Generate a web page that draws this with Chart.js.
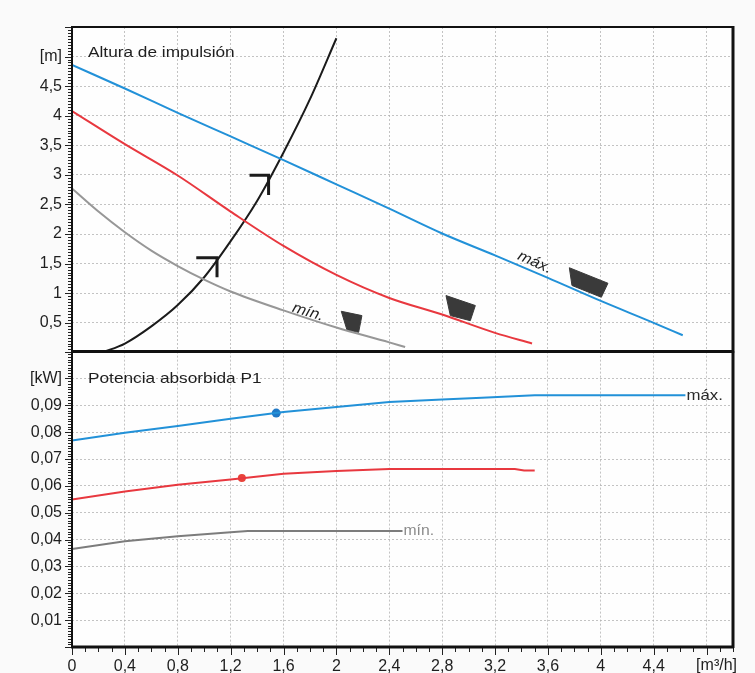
<!DOCTYPE html>
<html><head><meta charset="utf-8">
<script src="https://cdn.jsdelivr.net/npm/chart.js@4/dist/chart.umd.min.js"></script>
<style>
html,body{margin:0;padding:0;background:#fafafa;}
#wrap{position:relative;width:755px;height:673px;overflow:hidden;}
#cA{position:absolute;left:0;top:0;}
#cB{position:absolute;left:0;top:340px;}
</style></head><body>
<div id="wrap">
<canvas id="cA" width="755" height="360" style="width:755px;height:360px"></canvas>
<canvas id="cB" width="755" height="333" style="width:755px;height:333px"></canvas>
</div>
<script>
// ---------- data: head (Altura de impulsión) ----------
const flowMax = [0, 0.4, 0.8, 1.2, 1.6, 2.0, 2.4, 2.8, 3.2, 3.6, 4.0, 4.4, 4.62];
const headMax = [4.86, 4.46, 4.05, 3.65, 3.25, 2.84, 2.43, 2.01, 1.64, 1.26, 0.87, 0.50, 0.29];
const flowMid = [0, 0.4, 0.8, 1.2, 1.6, 2.0, 2.4, 2.8, 3.2, 3.48];
const headMid = [4.08, 3.52, 2.99, 2.38, 1.80, 1.31, 0.92, 0.64, 0.33, 0.15];
const flowMin = [0, 0.2, 0.4, 0.6, 0.8, 1.0, 1.2, 1.6, 2.0, 2.4, 2.52];
const headMin = [2.77, 2.38, 2.03, 1.72, 1.46, 1.23, 1.03, 0.71, 0.42, 0.17, 0.09];
const flowSys = [0.23, 0.4, 0.6, 0.8, 1.0, 1.2, 1.4, 1.6, 1.8, 2.0];
const headSys = [0.0, 0.15, 0.44, 0.80, 1.27, 1.88, 2.56, 3.38, 4.28, 5.31];
// arrow marks on the system curve
const mark1X = [0.94, 1.097, 1.097];
const mark1Y = [1.60, 1.60, 1.27];
const mark2X = [1.343, 1.487, 1.487];
const mark2Y = [2.995, 2.995, 2.66];
// speed-setting icons (polygons)
const iconMinX = [2.037, 2.193, 2.168, 2.080, 2.037];
const iconMinY = [0.695, 0.622, 0.339, 0.379, 0.695];
const iconMidX = [2.829, 3.051, 3.013, 2.862, 2.829];
const iconMidY = [0.961, 0.792, 0.537, 0.622, 0.961];
const iconMaxX = [3.762, 4.054, 4.004, 3.782, 3.762];
const iconMaxY = [1.431, 1.169, 0.932, 1.131, 1.431];

// ---------- data: power (Potencia absorbida P1) ----------
const flowPMax = [0, 0.4, 0.8, 1.2, 1.6, 2.0, 2.4, 2.8, 3.1, 3.5, 4.64];
const powMax   = [0.0769, 0.0798, 0.0823, 0.0850, 0.0875, 0.0894, 0.0912, 0.0922, 0.0928, 0.0937, 0.0937];
const flowPMid = [0, 0.4, 0.8, 1.2, 1.6, 2.0, 2.4, 3.35, 3.42, 3.5];
const powMid   = [0.0549, 0.0579, 0.0604, 0.0624, 0.0645, 0.0655, 0.0663, 0.0663, 0.0657, 0.0657];
const flowPMin = [0, 0.4, 0.8, 1.2, 1.33, 2.5];
const powMin   = [0.0365, 0.0394, 0.0412, 0.0427, 0.0432, 0.0432];
const dutyMaxX = [1.545], dutyMaxY = [0.0871];
const dutyMidX = [1.285], dutyMidY = [0.0629];

// ---------- axis ticks ----------
const xTicks = [0, 0.4, 0.8, 1.2, 1.6, 2, 2.4, 2.8, 3.2, 3.6, 4, 4.4];
const xUnit = '[m³/h]';
const headTicks = [0.5, 1, 1.5, 2, 2.5, 3, 3.5, 4, 4.5];
const headUnit = '[m]';
const powTicks = [0.01, 0.02, 0.03, 0.04, 0.05, 0.06, 0.07, 0.08, 0.09];
const powUnit = '[kW]';

const FONT = '"Liberation Sans", Arial, Helvetica, sans-serif';
Chart.defaults.font.family = FONT;
const BLUE = '#2291d8', RED = '#e8383f', GREY = '#979797', BLACK = '#1b1b1b', ICON = '#3a3a3a';
const TXT = '#1e1e1e';

function pts(xs, ys){ return xs.map((x,i)=>({x:x, y:ys[i]})); }
const near = (a,b)=>Math.abs(a-b)<1e-6;
const fmt = v => String(+v.toFixed(2)).replace('.', ',');
const GRID = 'rgba(175,175,175,0.75)';

function line(ctx,x1,y1,x2,y2){ctx.beginPath();ctx.moveTo(x1,y1);ctx.lineTo(x2,y2);ctx.stroke();}
function stretchedText(ctx, txt, x, y, sx, rot){
  ctx.save(); ctx.translate(x,y); if(rot) ctx.rotate(rot); ctx.scale(sx,1); ctx.fillText(txt,0,0); ctx.restore();
}

const bgPlugin = { id:'bg', beforeDraw(chart){ const {ctx, chartArea:a}=chart; ctx.save(); ctx.fillStyle='#fefefe'; ctx.fillRect(a.left,a.top,a.right-a.left,a.bottom-a.top); ctx.restore(); } };

const decoA = { id:'decoA', afterDraw(chart){
  const {ctx, chartArea:a, scales:{x,y}} = chart;
  ctx.save();
  ctx.strokeStyle='#222'; ctx.lineWidth=1;
  for(let i=0;i<=110;i++){ const py=Math.round(y.getPixelForValue(i*0.05))+0.5; const len=(i%10===0)?7:4; line(ctx,a.left-len,py,a.left,py); }
  ctx.strokeStyle='#111';
  ctx.lineWidth=2; line(ctx,a.left-1,a.top,a.right,a.top); line(ctx,a.left,a.top,a.left,a.bottom);
  ctx.lineWidth=3; line(ctx,a.right,a.top-1,a.right,a.bottom); line(ctx,a.left-1,a.bottom,a.right+1,a.bottom);
  // texts
  ctx.fillStyle=TXT; ctx.font='15px '+FONT; ctx.textBaseline='alphabetic'; ctx.textAlign='left';
  stretchedText(ctx,'Altura de impulsión', a.left+16, a.top+30, 1.15, 0);
  ctx.font='italic 15px '+FONT; ctx.textAlign='center'; ctx.textBaseline='middle';
  stretchedText(ctx,'máx.', x.getPixelForValue(3.50), y.getPixelForValue(1.52), 1.1, 24*Math.PI/180);
  stretchedText(ctx,'mín.', x.getPixelForValue(1.785), y.getPixelForValue(0.68), 1.1, 17*Math.PI/180);
  ctx.restore();
}};

const decoB = { id:'decoB', afterDraw(chart){
  const {ctx, chartArea:a, scales:{x,y}} = chart;
  ctx.save();
  ctx.strokeStyle='#222'; ctx.lineWidth=1;
  for(let i=0;i<=110;i++){ const py=Math.round(y.getPixelForValue(i*0.001))+0.5; const len=(i%10===0)?7:4; line(ctx,a.left-len,py,a.left,py); }
  for(let i=0;i<=50;i++){ const px=Math.round(x.getPixelForValue(i*0.1))+0.5; const len=(i%4===0)?8:5; line(ctx,px,a.bottom,px,a.bottom+len); }
  ctx.strokeStyle='#111';
  ctx.lineWidth=2; line(ctx,a.left,a.top,a.left,a.bottom);
  ctx.lineWidth=3; line(ctx,a.right,a.top,a.right,a.bottom+1); line(ctx,a.left-1,a.bottom,a.right+1,a.bottom); line(ctx,a.left-1,a.top,a.right+1,a.top);
  ctx.fillStyle=TXT; ctx.font='15px '+FONT; ctx.textBaseline='middle'; ctx.textAlign='left';
  stretchedText(ctx,'Potencia absorbida P1', a.left+16, y.getPixelForValue(0.1), 1.15, 0);
  ctx.fillStyle='#2a2a2a';
  stretchedText(ctx,'máx.', x.getPixelForValue(4.64)+1, y.getPixelForValue(0.0937), 1.12, 0);
  ctx.fillStyle='#8a8a8a';
  stretchedText(ctx,'mín.', x.getPixelForValue(2.5)+1, y.getPixelForValue(0.0432), 1.05, 0);
  // unit label on x axis
  ctx.fillStyle=TXT; ctx.font='16px '+FONT; ctx.textAlign='center'; ctx.textBaseline='middle';
  ctx.fillText(xUnit, x.getPixelForValue(4.8)+10, a.bottom+19);
  ctx.restore();
}};

const gridX = ctx => (ctx.tick && ((xTicks.some(t=>near(t,ctx.tick.value)) && ctx.tick.value>0) || near(ctx.tick.value,4.8))) ? GRID : 'rgba(0,0,0,0)';

const lineDS = (data,color,w) => ({data:data,borderColor:color,borderWidth:w,pointRadius:0,cubicInterpolationMode:'monotone',fill:false});
const segDS = (data,color,w) => ({data:data,borderColor:color,borderWidth:w,pointRadius:0,tension:0,fill:false});
const polyDS = (data) => ({data:data,borderColor:ICON,backgroundColor:ICON,borderWidth:1,pointRadius:0,tension:0,fill:'shape'});

// place a chart's plot area at the given page rows by moving / resizing its canvas
function place(chart, canvas, top, bottom){
  const a = chart.chartArea;
  const offTop = a.top;
  const extraBottom = chart.height - a.bottom;
  const canvasTop = top - offTop;
  canvas.style.top = canvasTop + 'px';
  chart.resize(755, Math.round(bottom - canvasTop + extraBottom));
}

const cA = document.getElementById('cA');
const chartA = new Chart(cA, {
  type:'line',
  data:{datasets:[
    lineDS(pts(flowMin,headMin),GREY,2),
    lineDS(pts(flowMid,headMid),RED,2),
    lineDS(pts(flowMax,headMax),BLUE,2),
    lineDS(pts(flowSys,headSys),BLACK,2),
    segDS(pts(mark1X,mark1Y),BLACK,3),
    segDS(pts(mark2X,mark2Y),BLACK,3),
    polyDS(pts(iconMinX,iconMinY)),
    polyDS(pts(iconMidX,iconMidY)),
    polyDS(pts(iconMaxX,iconMaxY))
  ]},
  options:{
    responsive:false, maintainAspectRatio:false, animation:false, devicePixelRatio:1,
    layout:{padding:{left:0,right:22,top:27,bottom:8}},
    plugins:{legend:{display:false},tooltip:{enabled:false}},
    scales:{
      x:{type:'linear',min:0,max:5,
         ticks:{stepSize:0.4,display:false},
         grid:{drawTicks:false,color:gridX,lineWidth:1},
         border:{display:false,dash:[2,2]},
         afterFit(s){s.height=0;}},
      y:{type:'linear',min:0,max:5.5,
         ticks:{stepSize:0.5,padding:10,color:TXT,font:{size:16},
           callback:v=> near(v,5)?headUnit : (headTicks.some(t=>near(t,v))?fmt(v):'')},
         grid:{drawTicks:false,lineWidth:1,
           color:c=> (c.tick && c.tick.value>0.1 && c.tick.value<5.2)?GRID:'rgba(0,0,0,0)'},
         border:{display:false,dash:[2,2]},
         afterFit(s){s.width=72;}}
    }
  },
  plugins:[bgPlugin,decoA]
});
place(chartA, cA, 27, 352);

const cB = document.getElementById('cB');
const chartB = new Chart(cB, {
  type:'line',
  data:{datasets:[
    segDS(pts(flowPMin,powMin),'#7c7c7c',2),
    segDS(pts(flowPMid,powMid),RED,2),
    segDS(pts(flowPMax,powMax),BLUE,2),
    {data:pts(dutyMidX,dutyMidY),showLine:false,pointRadius:4,pointBackgroundColor:'#e8433a',pointBorderWidth:0},
    {data:pts(dutyMaxX,dutyMaxY),showLine:false,pointRadius:4.5,pointBackgroundColor:'#1f78c6',pointBorderWidth:0}
  ]},
  options:{
    responsive:false, maintainAspectRatio:false, animation:false, devicePixelRatio:1,
    layout:{padding:{left:0,right:22,top:12,bottom:0}},
    plugins:{legend:{display:false},tooltip:{enabled:false}},
    scales:{
      x:{type:'linear',min:0,max:5,
         ticks:{stepSize:0.4,padding:10,color:TXT,font:{size:16},maxRotation:0,autoSkip:false,
           callback:v=> xTicks.some(t=>near(t,v))?fmt(v):''},
         grid:{drawTicks:false,color:gridX,lineWidth:1},
         border:{display:false,dash:[2,2]},
         afterFit(s){s.height=26;}},
      y:{type:'linear',min:0,max:0.11,
         ticks:{stepSize:0.01,padding:10,color:TXT,font:{size:16},
           callback:v=> near(v,0.1)?powUnit : (powTicks.some(t=>near(t,v))?fmt(v):'')},
         grid:{drawTicks:false,lineWidth:1,
           color:c=> (c.tick && c.tick.value>0.005 && c.tick.value<0.105)?GRID:'rgba(0,0,0,0)'},
         border:{display:false,dash:[2,2]},
         afterFit(s){s.width=72;}}
    }
  },
  plugins:[bgPlugin,decoB]
});
place(chartB, cB, 352, 647);
</script>
</body></html>
